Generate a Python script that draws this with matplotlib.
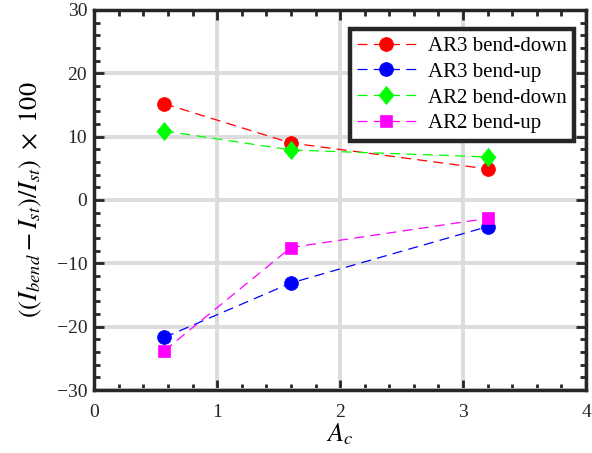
import matplotlib
matplotlib.use("Agg")
import matplotlib.pyplot as plt
from matplotlib.ticker import MultipleLocator

plt.rcParams['font.family'] = ['Liberation Serif', 'DejaVu Serif']
plt.rcParams['mathtext.fontset'] = 'stix'

Ac = [0.57, 1.6, 3.2]
ar3_down = [15.2, 9.0, 4.9]
ar3_up = [-21.7, -13.1, -4.2]
ar2_down = [10.9, 7.9, 6.8]
ar2_up = [-23.8, -7.5, -2.9]

labels = ['AR3 bend-down', 'AR3 bend-up', 'AR2 bend-down', 'AR2 bend-up']

diamond = [(0, 1), (0.83, 0), (0, -1), (-0.83, 0), (0, 1)]

fig = plt.figure(figsize=(5.92, 4.53), dpi=100)
ax = fig.add_axes([0.159, 0.139, 0.831, 0.839])

series = [
    (ar3_down, (1, 0, 0), 'o', 10),
    (ar3_up, (0, 0, 1), 'o', 10),
    (ar2_down, (0, 1, 0), diamond, 13),
    (ar2_up, (1, 0, 1), 's', 8.6),
]
for (vals, col, mk, ms), lab in zip(series, labels):
    ax.plot(Ac, vals, linestyle=(0, (8, 5)), color=col, linewidth=0.9,
            marker=mk, markersize=ms, markerfacecolor=col, markeredgecolor=col,
            markeredgewidth=0.5, label=lab)

ax.set_xlim(0, 4)
ax.set_ylim(-30, 30)
ax.xaxis.set_major_locator(MultipleLocator(1))
ax.xaxis.set_minor_locator(MultipleLocator(0.2))
ax.yaxis.set_major_locator(MultipleLocator(10))
ax.yaxis.set_minor_locator(MultipleLocator(2))
ax.tick_params(which='both', direction='in', top=True, right=True,
               width=2, colors='#262626', labelsize=14, labelcolor='#262626')
ax.tick_params(which='major', length=7)
ax.tick_params(which='minor', length=4)
ax.tick_params(axis='x', pad=10)
ax.tick_params(axis='y', pad=5)
for s in ax.spines.values():
    s.set_linewidth(2.5)
    s.set_color('#262626')
ax.grid(True, which='major', color='#dcdcdc', linewidth=2.8)
ax.set_axisbelow(True)

ax.set_xlabel(r'$A_c$', fontsize=19, labelpad=0)
ax.set_ylabel(r'$((I_{bend}-I_{st})/I_{st})\ \times\ 100$', fontsize=19, labelpad=9)

leg = ax.legend(loc='upper right', bbox_to_anchor=(0.976, 0.95), fontsize=15,
                numpoints=1, handlelength=2.8,
                fancybox=False, framealpha=1, edgecolor='#262626',
                borderaxespad=0, labelspacing=0.3, handletextpad=0.6,
                borderpad=0.35)
leg.get_frame().set_linewidth(3.2)

fig.savefig('out.png', dpi=100)
